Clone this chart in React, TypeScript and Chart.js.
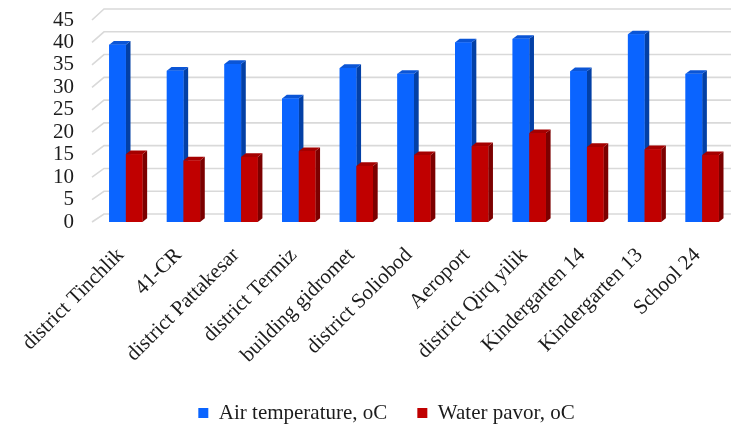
import React, { useEffect, useRef } from 'react';
import { Chart, registerables } from 'chart.js';

Chart.register(...registerables);

const categories = [
  'district Tinchlik',
  '41-CR',
  'district Pattakesar',
  'district Termiz',
  'building gidromet',
  'district Soliobod',
  'Aeroport',
  'district Qirq yilik',
  'Kindergarten 14',
  'Kindergarten 13',
  'School 24',
];
const airTemperature = [39.5, 33.7, 35.2, 27.5, 34.3, 33.0, 40.0, 40.8, 33.6, 41.8, 33.0];
const waterPavor = [15.1, 13.7, 14.5, 15.8, 12.5, 14.9, 16.9, 19.8, 16.7, 16.2, 14.9];
const seriesNames = ['Air temperature, oC', 'Water pavor, oC'];
const yMax = 45;
const yStep = 5;

const FONT = '"Liberation Serif", "Times New Roman", serif';
const TEXT = '#1c1c1c';

// front / top / side shades for each series
const shades = [
  { front: '#0a64ff', top: '#0b55d6', side: '#0340a6' },
  { front: '#c00000', top: '#a50000', side: '#7c0000' },
];

const BAR_DX = 4.7;
const BAR_DY = -3.7;
const WALL_DX = 12;

const depthPlugin = {
  id: 'depth3d',
  afterLayout(chart: any) {
    const lg = chart.legend;
    if (lg) {
      lg.left += 21;
      lg.right += 21;
    }
  },
  beforeDatasetsDraw(chart: any) {
    const { ctx, chartArea, scales } = chart;
    const y = scales.y;
    const xf = chartArea.left - 5;
    ctx.save();
    ctx.strokeStyle = '#d9d9d9';
    ctx.lineWidth = 1.6;
    y.ticks.forEach((t: any) => {
      const v = t.value;
      const yf = y.getPixelForValue(v);
      const yb = yf - 8 - (3 * v) / yMax;
      ctx.beginPath();
      ctx.moveTo(xf, yf);
      ctx.lineTo(xf + WALL_DX, yb);
      ctx.lineTo(chart.width, yb);
      ctx.stroke();
    });
    ctx.restore();
  },
  afterDatasetsDraw(chart: any) {
    const { ctx } = chart;
    ctx.save();
    chart.data.datasets.forEach((_: any, di: number) => {
      const meta = chart.getDatasetMeta(di);
      const c = shades[di];
      meta.data.forEach((bar: any) => {
        const { x, y, base, width } = bar.getProps(['x', 'y', 'base', 'width'], true);
        const xl = x - width / 2;
        const xr = x + width / 2;
        // side face
        ctx.fillStyle = c.side;
        ctx.beginPath();
        ctx.moveTo(xr, y);
        ctx.lineTo(xr + BAR_DX, y + BAR_DY);
        ctx.lineTo(xr + BAR_DX, base + BAR_DY);
        ctx.lineTo(xr, base);
        ctx.closePath();
        ctx.fill();
        // top face
        ctx.fillStyle = c.top;
        ctx.beginPath();
        ctx.moveTo(xl, y);
        ctx.lineTo(xl + BAR_DX, y + BAR_DY);
        ctx.lineTo(xr + BAR_DX, y + BAR_DY);
        ctx.lineTo(xr, y);
        ctx.closePath();
        ctx.fill();
        // front face
        ctx.fillStyle = c.front;
        ctx.fillRect(xl, y, width, base - y);
      });
    });
    ctx.restore();
  },
};

export default function App() {
  const ref = useRef<HTMLCanvasElement>(null);

  useEffect(() => {
    if (!ref.current) return;
    const chart = new Chart(ref.current, {
      type: 'bar',
      data: {
        labels: categories,
        datasets: [
          {
            label: seriesNames[0],
            data: airTemperature,
            backgroundColor: shades[0].front,
            borderWidth: 0,
            categoryPercentage: 0.577,
            barPercentage: 1,
          },
          {
            label: seriesNames[1],
            data: waterPavor,
            backgroundColor: shades[1].front,
            borderWidth: 0,
            categoryPercentage: 0.577,
            barPercentage: 1,
          },
        ],
      },
      options: {
        responsive: false,
        animation: false,
        devicePixelRatio: 1,
        layout: { padding: { top: 20, left: 0, right: 0, bottom: 0 } },
        plugins: {
          tooltip: { enabled: false },
          legend: {
            position: 'bottom',
            maxHeight: 55.5,
            labels: {
              boxWidth: 10,
              boxHeight: 10,
              padding: 30,
              color: TEXT,
              font: { family: FONT, size: 21 },
            },
          },
        },
        scales: {
          x: {
            grid: { display: false, drawTicks: false },
            border: { display: false },
            ticks: {
              minRotation: 45,
              maxRotation: 45,
              autoSkip: false,
              padding: 21,
              labelOffset: -5,
              color: TEXT,
              font: { family: FONT, size: 21 },
            },
            afterFit: (s: any) => {
              s.height = 150.5;
              s.paddingLeft = 0;
              s.paddingRight = 0;
            },
          },
          y: {
            min: 0,
            max: yMax,
            grid: { display: false, drawTicks: false },
            border: { display: false },
            ticks: {
              stepSize: yStep,
              autoSkip: false,
              padding: 23,
              color: TEXT,
              font: { family: FONT, size: 21 },
            },
            afterFit: (s: any) => {
              s.width = 97;
              s.paddingTop = 12;
              s.paddingBottom = 12;
            },
          },
        },
      },
      plugins: [depthPlugin],
    });
    return () => chart.destroy();
  }, []);

  return (
    <div style={{ position: 'fixed', left: 0, top: 0, width: 731, height: 428, background: '#fff' }}>
      <canvas ref={ref} width={731} height={428} style={{ display: 'block' }} />
    </div>
  );
}
